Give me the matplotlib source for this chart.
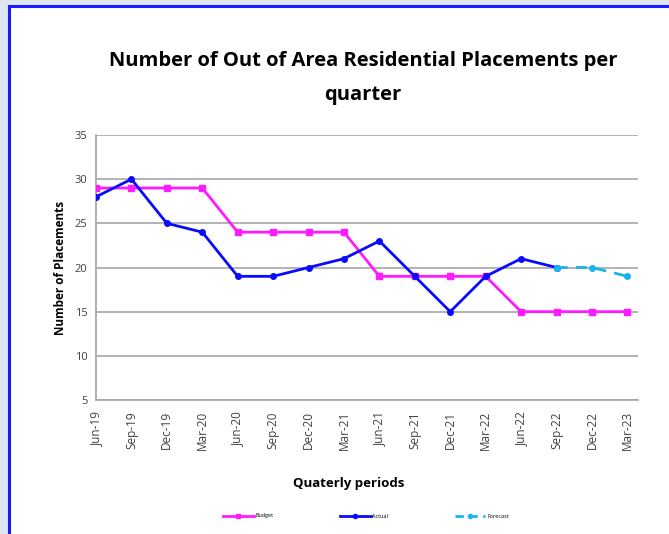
import matplotlib
matplotlib.use("Agg")
import matplotlib.pyplot as plt
from matplotlib.patches import Rectangle
from matplotlib.lines import Line2D

# quarterly periods
periods = ["Jun-19", "Sep-19", "Dec-19", "Mar-20", "Jun-20", "Sep-20", "Dec-20", "Mar-21",
           "Jun-21", "Sep-21", "Dec-21", "Mar-22", "Jun-22", "Sep-22", "Dec-22", "Mar-23"]
budget = [29, 29, 29, 29, 24, 24, 24, 24, 19, 19, 19, 19, 15, 15, 15, 15]
actual = [28, 30, 25, 24, 19, 19, 20, 21, 23, 19, 15, 19, 21, 20]
forecast_periods = ["Sep-22", "Dec-22", "Mar-23"]
forecast = [20, 20, 19]
y_ticks = [5, 10, 15, 20, 25, 30, 35]

plt.rcParams['font.family'] = ['Open Sans', 'DejaVu Sans']

fig = plt.figure(figsize=(6.69, 5.34), dpi=100)
fig.patch.set_facecolor("#dfe6f1")

# white panel with blue frame on left/top
fig.add_artist(Rectangle((9 / 669, -0.1), 1.2, (1 - 6 / 534) + 0.1, transform=fig.transFigure,
                         facecolor="white", edgecolor="#1a1aff", linewidth=2.2, zorder=-9))

ax = fig.add_axes([96 / 669, 1 - 400 / 534, 542 / 669, 265 / 534])
ax.set_facecolor("white")

x = list(range(len(periods)))
xf = [periods.index(p) for p in forecast_periods]

ax.plot(x, budget, color="#ff1aff", marker="s", markersize=4, linewidth=2, zorder=3)
ax.plot(x[:len(actual)], actual, color="#0a0aff", marker="o", markersize=4, linewidth=2, zorder=4)
ax.plot(xf, forecast, color="#18b4f0", marker="o", markersize=4, linewidth=2,
        linestyle=(0, (4, 3)), zorder=5)

ax.set_ylim(5, 35)
ax.set_yticks(y_ticks)
ax.set_xlim(0, 15.3)
ax.set_xticks(x)
ax.set_xticklabels(periods, rotation=90, fontsize=8.5)
ax.tick_params(axis="y", labelsize=8, length=0, colors="#404040", pad=6)
ax.tick_params(axis="x", length=0, colors="#404040", pad=8)
ax.yaxis.grid(True, color="#a6a6a6", linewidth=1.2)
ax.set_axisbelow(True)
for s in ["top", "right"]:
    ax.spines[s].set_visible(False)
for s in ["left", "bottom"]:
    ax.spines[s].set_color("#a6a6a6")
    ax.spines[s].set_linewidth(1.2)

ax.set_ylabel("Number of Placements", fontsize=8.5, fontweight="bold", labelpad=6)
fig.text(349 / 669, 1 - 483 / 534, "Quaterly periods", ha="center", va="center",
         fontsize=9.5, fontweight="bold")

fig.text(363 / 669, 1 - 78 / 534, "Number of Out of Area Residential Placements per\nquarter",
         ha="center", va="center", fontsize=14.5, fontweight="bold", linespacing=1.9)

handles = [Line2D([], [], color="#ff1aff", marker="s", markersize=3, linewidth=2),
           Line2D([], [], color="#0a0aff", marker="o", markersize=3, linewidth=2),
           Line2D([], [], color="#18b4f0", marker="o", markersize=3, linewidth=2,
                  linestyle=(0, (3, 2)))]
fig.legend(handles, ["Budget", "Actual", "Forecast"], loc="center",
           bbox_to_anchor=(366 / 669, 1 - 516 / 534), ncol=3, frameon=False,
           fontsize=4, columnspacing=12, handlelength=5.5, handletextpad=0.3)

fig.savefig("out.png", dpi=100)
